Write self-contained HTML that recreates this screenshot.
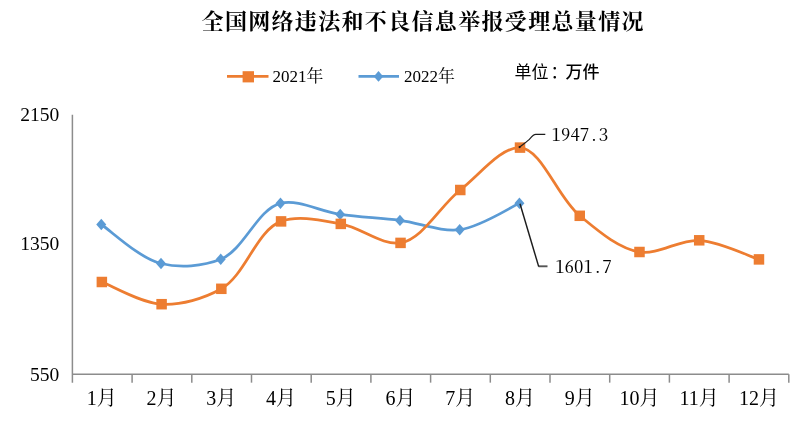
<!DOCTYPE html>
<html lang="zh-CN"><head><meta charset="utf-8"><title>全国网络违法和不良信息举报受理总量情况</title>
<style>html,body{margin:0;padding:0;background:#fff;}body{width:800px;height:429px;overflow:hidden;}svg{display:block;}</style>
</head><body>
<svg width="800" height="429" viewBox="0 0 800 429">
<rect width="800" height="429" fill="#fff"/>
<g stroke="#8c8c8c" stroke-width="1.5" fill="none">
<path d="M72.40 114.70 V382.65"/>
<path d="M72.40 374.35 H788.80"/>
<path d="M132.10 374.35 V382.65"/>
<path d="M191.80 374.35 V382.65"/>
<path d="M251.50 374.35 V382.65"/>
<path d="M311.20 374.35 V382.65"/>
<path d="M370.90 374.35 V382.65"/>
<path d="M430.60 374.35 V382.65"/>
<path d="M490.30 374.35 V382.65"/>
<path d="M550.00 374.35 V382.65"/>
<path d="M609.70 374.35 V382.65"/>
<path d="M669.40 374.35 V382.65"/>
<path d="M729.10 374.35 V382.65"/>
<path d="M788.80 374.35 V382.65"/>
</g>
<path d="M101.26 224.50 C111.22 231.00 139.48 258.32 161.00 263.50 C179.70 268.01 202.75 266.45 220.73 259.30 C243.83 250.12 257.55 208.90 280.47 203.30 C298.52 198.89 320.20 211.54 340.20 214.40 C360.02 217.23 380.08 217.86 399.94 220.40 C419.91 222.95 440.34 232.11 459.68 229.70 C480.24 227.14 509.46 207.70 519.41 203.30" fill="none" stroke="#5B9BD5" stroke-width="2.75" stroke-linecap="round" stroke-linejoin="round"/>
<path d="M101.26 218.80 l5.0 5.7 l-5.0 5.7 l-5.0 -5.7 z" fill="#5B9BD5"/>
<path d="M161.00 257.80 l5.0 5.7 l-5.0 5.7 l-5.0 -5.7 z" fill="#5B9BD5"/>
<path d="M220.73 253.60 l5.0 5.7 l-5.0 5.7 l-5.0 -5.7 z" fill="#5B9BD5"/>
<path d="M280.47 197.60 l5.0 5.7 l-5.0 5.7 l-5.0 -5.7 z" fill="#5B9BD5"/>
<path d="M340.20 208.70 l5.0 5.7 l-5.0 5.7 l-5.0 -5.7 z" fill="#5B9BD5"/>
<path d="M399.94 214.70 l5.0 5.7 l-5.0 5.7 l-5.0 -5.7 z" fill="#5B9BD5"/>
<path d="M459.68 224.00 l5.0 5.7 l-5.0 5.7 l-5.0 -5.7 z" fill="#5B9BD5"/>
<path d="M519.41 197.60 l5.0 5.7 l-5.0 5.7 l-5.0 -5.7 z" fill="#5B9BD5"/>
<path d="M101.86 282.00 C111.82 285.70 141.42 303.22 161.60 304.20 C181.26 305.16 203.63 298.80 221.33 288.80 C245.29 275.26 256.67 230.14 281.07 221.40 C298.65 215.10 321.25 220.48 340.80 223.90 C361.11 227.45 382.21 246.00 400.54 242.90 C422.78 239.14 439.64 206.34 460.28 190.00 C479.55 174.74 501.53 146.50 520.01 147.60 C541.93 148.91 557.29 197.41 579.75 215.80 C597.98 230.73 618.35 248.59 639.48 252.00 C658.42 255.05 679.54 239.20 699.22 240.30 C719.38 241.42 749.00 256.22 758.96 259.40" fill="none" stroke="#ED7D31" stroke-width="2.75" stroke-linecap="round" stroke-linejoin="round"/>
<rect x="96.61" y="276.75" width="10.5" height="10.5" fill="#ED7D31"/>
<rect x="156.35" y="298.95" width="10.5" height="10.5" fill="#ED7D31"/>
<rect x="216.08" y="283.55" width="10.5" height="10.5" fill="#ED7D31"/>
<rect x="275.82" y="216.15" width="10.5" height="10.5" fill="#ED7D31"/>
<rect x="335.55" y="218.65" width="10.5" height="10.5" fill="#ED7D31"/>
<rect x="395.29" y="237.65" width="10.5" height="10.5" fill="#ED7D31"/>
<rect x="455.03" y="184.75" width="10.5" height="10.5" fill="#ED7D31"/>
<rect x="514.76" y="142.35" width="10.5" height="10.5" fill="#ED7D31"/>
<rect x="574.50" y="210.55" width="10.5" height="10.5" fill="#ED7D31"/>
<rect x="634.23" y="246.75" width="10.5" height="10.5" fill="#ED7D31"/>
<rect x="693.97" y="235.05" width="10.5" height="10.5" fill="#ED7D31"/>
<rect x="753.71" y="254.15" width="10.5" height="10.5" fill="#ED7D31"/>
<path d="M519.4 147.2 C524 143.5 528 141 530 138.6 C532 136.2 533.5 134.4 535.8 134.4 H545.3" fill="none" stroke="#1c1c1c" stroke-width="1.15"/>
<circle cx="519.6" cy="147.1" r="1.1" fill="#1c1c1c"/>
<path d="M538.6 266.3 H547.5" fill="none" stroke="#555" stroke-width="1.9"/>
<path d="M520 203.8 L538.7 266.6" fill="none" stroke="#1c1c1c" stroke-width="1.45"/>
<path d="M227 76.3 H268.5" stroke="#ED7D31" stroke-width="2.75"/>
<rect x="242.6" y="71.2" width="11.4" height="11.2" fill="#ED7D31"/>
<path d="M358.5 76.3 H399" stroke="#5B9BD5" stroke-width="2.75"/>
<path d="M378.5 71.1 l4.7 5.3 l-4.7 5.3 l-4.7 -5.3 z" fill="#5B9BD5"/>
<text x="423.2" y="28.8" text-anchor="middle" font-family="'Liberation Serif', 'Noto Serif CJK SC', serif" font-size="22" font-weight="bold" letter-spacing="1.33" fill="#000">全国网络违法和不良信息举报受理总量情况</text>
<text x="272.5" y="82.3" font-family="'Liberation Serif', 'Noto Serif CJK SC', serif" font-size="17" fill="#000">2021年</text>
<text x="404" y="82.3" font-family="'Liberation Serif', 'Noto Serif CJK SC', serif" font-size="17" fill="#000">2022年</text>
<text x="514.5" y="78" font-family="'Liberation Sans', 'Noto Sans CJK SC', sans-serif" font-size="17" fill="#000">单位<tspan dx="2">：</tspan><tspan dx="-2" font-weight="500">万件</tspan></text>
<text x="59.3" y="121.1" text-anchor="end" font-family="'Liberation Serif', 'Noto Serif CJK SC', serif" font-size="19.5" fill="#000">2150</text>
<text x="59.3" y="250.4" text-anchor="end" font-family="'Liberation Serif', 'Noto Serif CJK SC', serif" font-size="19.5" fill="#000">1350</text>
<text x="59.3" y="381.0" text-anchor="end" font-family="'Liberation Serif', 'Noto Serif CJK SC', serif" font-size="19.5" fill="#000">550</text>
<text x="101.86" y="405" text-anchor="middle" font-family="'Liberation Serif', 'Noto Serif CJK SC', serif" font-size="20" fill="#000">1月</text>
<text x="161.60" y="405" text-anchor="middle" font-family="'Liberation Serif', 'Noto Serif CJK SC', serif" font-size="20" fill="#000">2月</text>
<text x="221.33" y="405" text-anchor="middle" font-family="'Liberation Serif', 'Noto Serif CJK SC', serif" font-size="20" fill="#000">3月</text>
<text x="281.07" y="405" text-anchor="middle" font-family="'Liberation Serif', 'Noto Serif CJK SC', serif" font-size="20" fill="#000">4月</text>
<text x="340.80" y="405" text-anchor="middle" font-family="'Liberation Serif', 'Noto Serif CJK SC', serif" font-size="20" fill="#000">5月</text>
<text x="400.54" y="405" text-anchor="middle" font-family="'Liberation Serif', 'Noto Serif CJK SC', serif" font-size="20" fill="#000">6月</text>
<text x="460.28" y="405" text-anchor="middle" font-family="'Liberation Serif', 'Noto Serif CJK SC', serif" font-size="20" fill="#000">7月</text>
<text x="520.01" y="405" text-anchor="middle" font-family="'Liberation Serif', 'Noto Serif CJK SC', serif" font-size="20" fill="#000">8月</text>
<text x="579.75" y="405" text-anchor="middle" font-family="'Liberation Serif', 'Noto Serif CJK SC', serif" font-size="20" fill="#000">9月</text>
<text x="639.48" y="405" text-anchor="middle" font-family="'Liberation Serif', 'Noto Serif CJK SC', serif" font-size="20" fill="#000">10月</text>
<text x="699.22" y="405" text-anchor="middle" font-family="'Liberation Serif', 'Noto Serif CJK SC', serif" font-size="20" fill="#000">11月</text>
<text x="758.96" y="405" text-anchor="middle" font-family="'Liberation Serif', 'Noto Serif CJK SC', serif" font-size="20" fill="#000">12月</text>
<text transform="translate(551.6,141.3) scale(1.09,1)" font-family="'Noto Serif CJK SC', 'Liberation Serif', serif" style="font-feature-settings:'hwid'" font-size="17.3" fill="#000">1947.3</text>
<text transform="translate(555.2,273.4) scale(1.09,1)" font-family="'Noto Serif CJK SC', 'Liberation Serif', serif" style="font-feature-settings:'hwid'" font-size="17.3" fill="#000">1601.7</text>
</svg>
</body></html>
